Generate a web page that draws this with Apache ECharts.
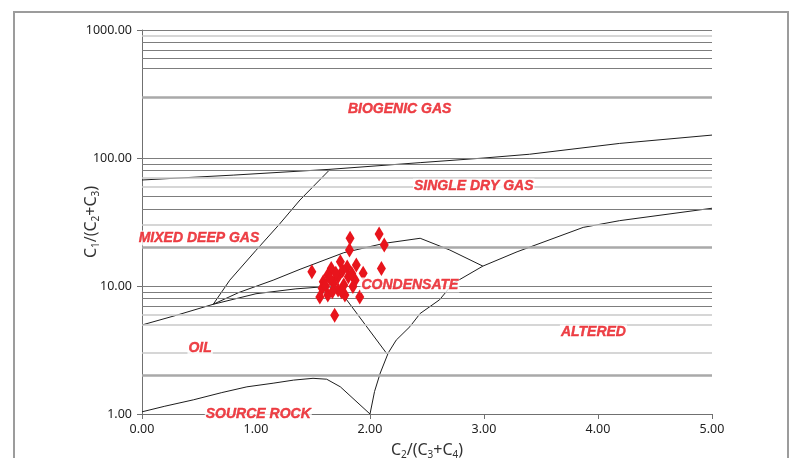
<!DOCTYPE html>
<html>
<head>
<meta charset="utf-8">
<title>C1/(C2+C3) vs C2/(C3+C4)</title>
<script src="https://cdn.jsdelivr.net/npm/echarts@6/dist/echarts.min.js"></script>
<style>
  html, body { margin: 0; padding: 0; background: #ffffff; }
  #chart { width: 792px; height: 458px; }
</style>
</head>
<body>
<div id="chart"></div>
<script>
// Horizontal reference lines (C1/(C2+C3) values)
const gridValues = [2, 3, 5, 6, 7, 8, 9, 10, 20, 30, 40, 50, 60, 70, 80, 90, 100, 300, 500, 600, 700, 800, 900, 1000];

// Field boundaries, [C2/(C3+C4), C1/(C2+C3)]
const biogenicBoundary = [[0, 67.3], [0.8, 73.5], [1.65, 81.6], [2.44, 92], [3.0, 100], [3.4, 107], [4.19, 130], [5.0, 151]];
const mixedDeepGasBoundary = [[0.625, 7.2], [0.77, 11.1], [1.0, 19], [1.2, 30], [1.386, 47], [1.65, 81.6]];
const condensateUpper = [[0.625, 7.2], [0.85, 8.9], [1.15, 11.1], [1.386, 13.5], [1.77, 18.2], [2.12, 21.5], [2.44, 23.6], [2.7, 19.1], [2.99, 14.3]];
const oilUpper = [[0, 4.96], [0.3, 5.9], [0.625, 7.2], [1.0, 8.7], [1.35, 9.5], [1.62, 9.9], [1.72, 9.6], [2.15, 2.94]];
const alteredBoundary = [[2.0, 1.0], [2.04, 1.5], [2.09, 2.09], [2.16, 3.0], [2.23, 3.78], [2.35, 4.81], [2.44, 6.1], [2.61, 7.8], [2.73, 10.5], [2.99, 14.3], [3.29, 18.5], [3.87, 28.7], [4.19, 32.4], [5.0, 40.5]];
const sourceRockBoundary = [[0, 1.04], [0.2, 1.15], [0.45, 1.29], [0.7, 1.47], [0.92, 1.63], [1.15, 1.74], [1.33, 1.84], [1.5, 1.9], [1.62, 1.87], [1.74, 1.63], [2.0, 1.0]];

// Samples
const samples = [
  [1.825, 23.6], [1.82, 19.1], [2.08, 25.5], [2.125, 20.9], [2.10, 13.7], [1.49, 12.9], [1.94, 12.6],
  [1.74, 15.5], [1.66, 13.7], [1.88, 14.6], [1.80, 14.1], [1.63, 12.2], [1.72, 11.8], [1.81, 11.8],
  [1.87, 11.1], [1.59, 10.8], [1.68, 10.5], [1.77, 10.2], [1.85, 9.9], [1.58, 9.6], [1.72, 9.3],
  [1.63, 8.5], [1.56, 8.2], [1.78, 8.5], [1.91, 8.2], [1.69, 5.9], [1.70, 12.6], [1.76, 13.2],
  [1.65, 11.4], [1.75, 9.0], [1.67, 9.0], [1.84, 12.5], [1.61, 10.0]
];

// Field names and where they sit
const fieldNames = ['BIOGENIC GAS', 'SINGLE DRY GAS', 'MIXED DEEP GAS', 'CONDENSATE', 'OIL', 'ALTERED', 'SOURCE ROCK'];
const fieldPositions = [[2.26, 241], [2.91, 60.4], [0.50, 23.7], [2.35, 10.2], [0.51, 3.28], [3.96, 4.37], [1.02, 1.0]];

const RED = '#e8141c';
const BOUNDARY = '#1e1e1e';
const gridStyle = {
  thick: { color: '#a9a9a9', width: 2.5 },
  light: { color: '#c9c9c9', width: 1.5 },
  dark: { color: '#7d7d7d', width: 1 }
};
const thickLines = new Set([2, 20, 300]);
const lightLines = new Set([3, 5, 6, 30, 60, 70, 900]);

function gridLineStyle(v) {
  const s = thickLines.has(v) ? gridStyle.thick : (lightLines.has(v) ? gridStyle.light : gridStyle.dark);
  return { color: s.color, width: s.width, type: 'solid' };
}

function boundarySeries(data) {
  return {
    type: 'line', data: data, showSymbol: false, symbol: 'none', silent: true,
    lineStyle: { color: BOUNDARY, width: 1 }, z: 3, animation: false
  };
}

const chart = echarts.init(document.getElementById('chart'), null, { renderer: 'canvas' });

const axisFont = 'Noto Sans';
const nameRich = {
  n: { fontFamily: axisFont, fontSize: 16, color: '#333', lineHeight: 20 },
  s: { fontFamily: axisFont, fontSize: 10, color: '#333', lineHeight: 8, verticalAlign: 'bottom' }
};

chart.setOption({
  backgroundColor: '#ffffff',
  animation: false,
  grid: { left: 142, right: 80, top: 30, bottom: 44, containLabel: false, outerBoundsMode: 'none' },
  graphic: [{
    type: 'rect', silent: true, z: -10,
    shape: { x: 14, y: 12, width: 774, height: 470 },
    style: { fill: 'none', stroke: '#9c9c9c', lineWidth: 2 }
  }],
  xAxis: {
    type: 'value', min: 0, max: 5, interval: 1,
    name: '{n|C}{s|2}{n|/(C}{s|3}{n|+C}{s|4}{n|)}',
    nameLocation: 'middle', nameGap: 26, nameMoveOverlap: false,
    nameTextStyle: { rich: nameRich },
    axisLine: { show: true, lineStyle: { color: '#707070', width: 1 } },
    axisTick: { show: true, length: 5, lineStyle: { color: '#707070' } },
    axisLabel: { fontFamily: axisFont, fontSize: 12.5, color: '#222', margin: 9, formatter: v => v.toFixed(2) },
    splitLine: { show: false }
  },
  yAxis: {
    type: 'log', logBase: 10, min: 1, max: 1000,
    name: '{n|C}{s|1}{n|/(C}{s|2}{n|+C}{s|3}{n|)}',
    nameLocation: 'middle', nameGap: 41, nameRotate: 90, nameMoveOverlap: false,
    nameTextStyle: { rich: nameRich },
    axisLine: { show: true, lineStyle: { color: '#707070', width: 1 } },
    axisTick: { show: true, length: 5, lineStyle: { color: '#707070' } },
    axisLabel: { fontFamily: axisFont, fontSize: 12.5, color: '#222', margin: 10, formatter: v => v.toFixed(2) },
    splitLine: { show: false },
    minorTick: { show: false }
  },
  series: [
    {
      type: 'line', data: [], silent: true, z: 1, animation: false,
      markLine: {
        silent: true, symbol: ['none', 'none'], animation: false,
        label: { show: false },
        emphasis: { disabled: true },
        data: gridValues.map(v => ({ yAxis: v, lineStyle: gridLineStyle(v) }))
      }
    },
    boundarySeries(biogenicBoundary),
    boundarySeries(mixedDeepGasBoundary),
    boundarySeries(condensateUpper),
    boundarySeries(oilUpper),
    boundarySeries(alteredBoundary),
    boundarySeries(sourceRockBoundary),
    {
      type: 'scatter', data: samples, symbol: 'diamond', symbolSize: [9, 15],
      itemStyle: { color: RED, opacity: 1 }, z: 5, silent: true, animation: false
    },
    {
      type: 'scatter', symbolSize: 0, silent: true, z: 10, clip: false, animation: false,
      data: fieldNames.map((n, i) => ({ name: n, value: fieldPositions[i] })),
      label: {
        show: true, position: 'inside', formatter: p => p.name,
        fontFamily: 'Liberation Sans', fontWeight: 'bold', fontStyle: 'italic',
        fontSize: 14, color: RED, textBorderColor: RED, textBorderWidth: 0.4,
        backgroundColor: '#ffffff', padding: [1, 1, 0, 1]
      }
    }
  ]
});
</script>
</body>
</html>
